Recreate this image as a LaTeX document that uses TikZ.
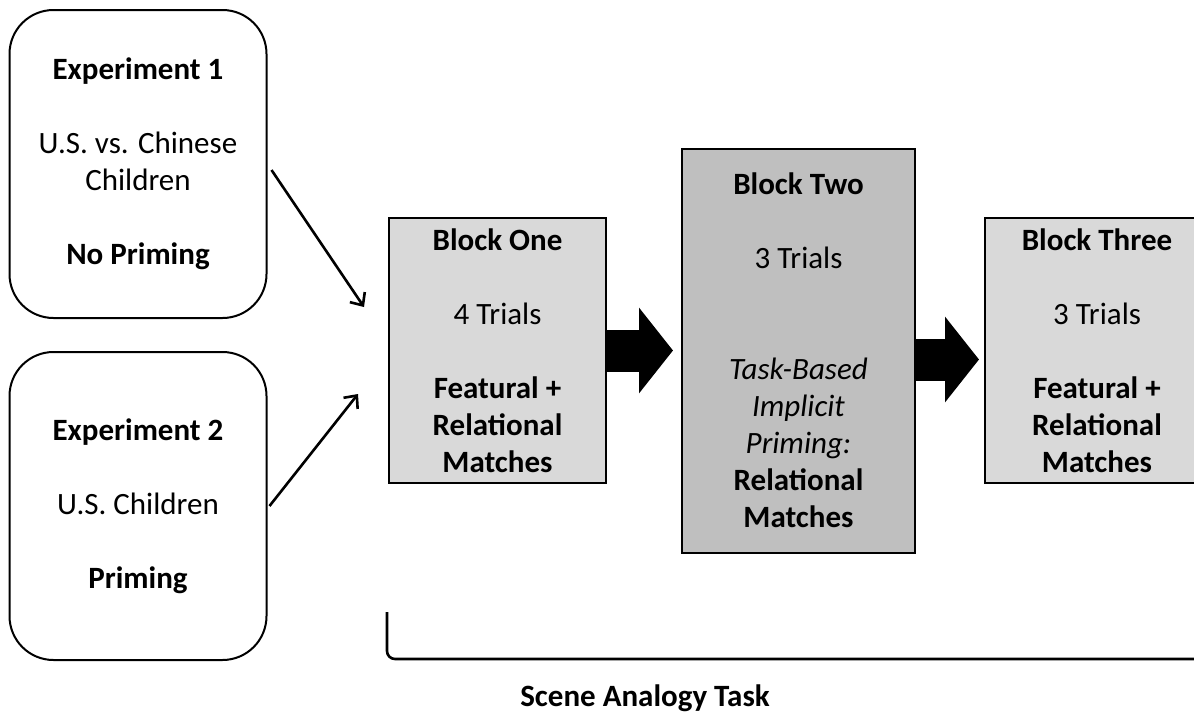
\documentclass[tikz,border=0pt]{standalone}
\usepackage{fontspec}
\setmainfont{Carlito}
\usetikzlibrary{arrows.meta,positioning}
\definecolor{lightblock}{HTML}{D9D9D9}
\definecolor{darkblock}{HTML}{BFBFBF}
\begin{document}
\begin{tikzpicture}[x=0.5pt,y=-0.5pt,node distance=16pt and 37pt,
 font=\fontsize{15.5}{18.5}\selectfont,
 expbox/.style={draw,line width=1pt,rounded corners=22pt,align=center,minimum width=128.5pt,minimum height=154pt,inner sep=0pt},
 blk/.style={draw,line width=1pt,fill=lightblock,align=center,minimum width=108.5pt,minimum height=132.5pt,inner sep=0pt},
 thin/.style={line width=1.3pt,-{Straight Barb[length=5pt,width=9pt]}},
 bigarrow/.style={line width=21pt,-{Triangle[length=17pt,width=42pt]}}]
\useasboundingbox (0,0) rectangle (1194,723);
\node[expbox] (exp1) at (138,164) {\textbf{Experiment 1}\\[18.5pt]U.S. vs. Chinese\\Children\\[18.5pt]\textbf{No Priming}};
\node[expbox,below=of exp1] (exp2) {\textbf{Experiment 2}\\[18.5pt]U.S. Children\\[18.5pt]\textbf{Priming}};
\node[blk] (one) at (497.5,350.5) {\textbf{Block One}\\[18.5pt]4 Trials\\[18.5pt]\textbf{Featural +}\\\textbf{Relational}\\\textbf{Matches}};
\node[blk,fill=darkblock,minimum width=116.5pt,minimum height=202pt,right=of one] (two) {\textbf{Block Two}\\[18.5pt]3 Trials\\[37pt]\textit{Task-Based}\\\textit{Implicit}\\\textit{Priming:}\\\textbf{Relational}\\\textbf{Matches}};
\node[blk,minimum width=112pt,right=34pt of two] (three) {\textbf{Block Three}\\[18.5pt]3 Trials\\[18.5pt]\textbf{Featural +}\\\textbf{Relational}\\\textbf{Matches}};
\coordinate (in1) at (364,307);
\coordinate (in2) at (358,394);
\draw[thin] ([xshift=2pt,yshift=-3pt]exp1.east) -- (in1);
\draw[thin] ([xshift=1pt]exp2.east) -- (in2);
\draw[bigarrow] (one.east) -- ([xshift=-4pt]two.west);
\draw[bigarrow] ([yshift=-4.5pt]two.east) -- ([xshift=-2.5pt,yshift=-4.5pt]three.west);
% bracket under the three blocks
\draw[line width=1.3pt,rounded corners=4pt] (387,612) -- (387,659) -- (1200,659);
\node[font=\fontsize{15.5}{18.5}\selectfont\bfseries] (task) at (645,698) {Scene Analogy Task};
\end{tikzpicture}
\end{document}
